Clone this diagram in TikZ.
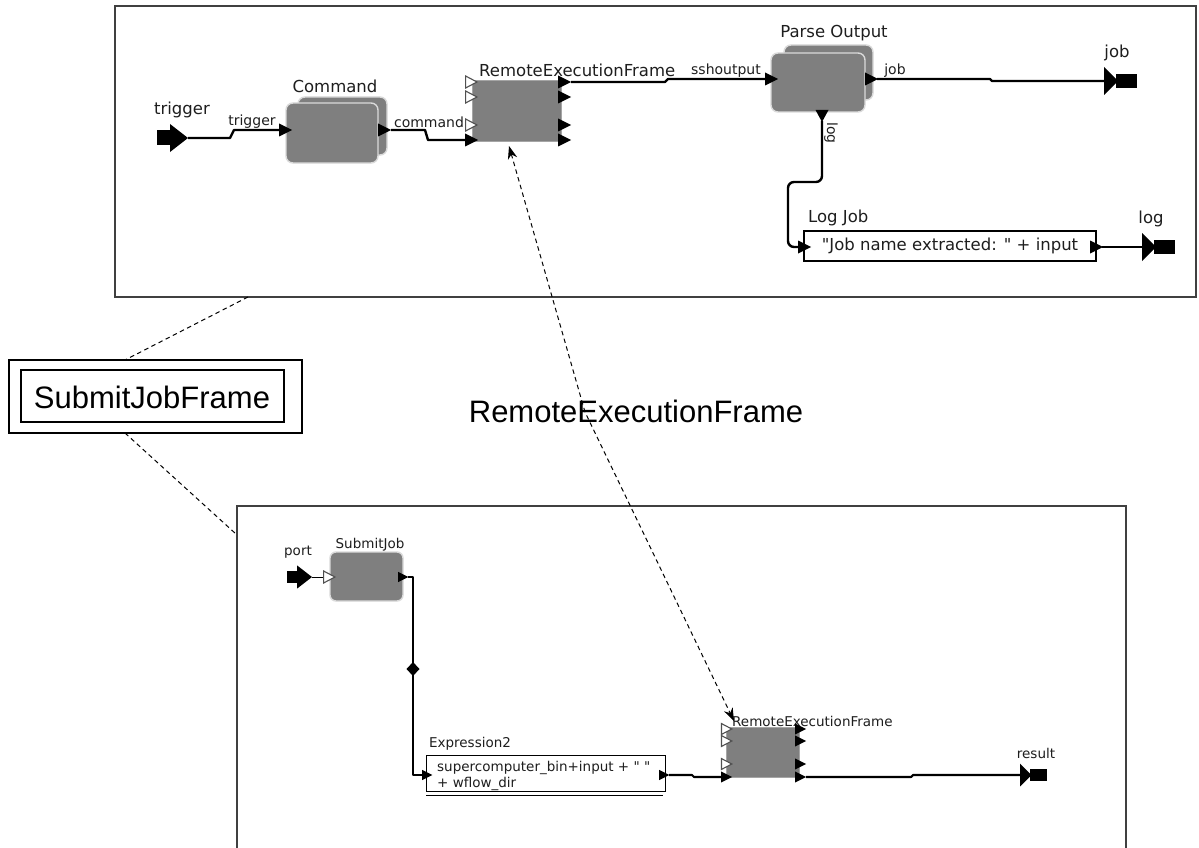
\documentclass[tikz,border=0pt]{standalone}
\usepackage{fontspec}
\setmainfont{Liberation Sans}
\newfontfamily\uifont{DejaVu Sans}
\usetikzlibrary{arrows.meta}
\definecolor{boxgray}{RGB}{127,127,127}
\definecolor{boxrim}{RGB}{218,218,218}
\definecolor{framegray}{RGB}{64,64,64}
\definecolor{opengray}{RGB}{80,80,80}
\definecolor{ink}{RGB}{30,30,30}
\begin{document}
\begin{tikzpicture}[x=1pt,y=-1pt,
  frame/.style={draw=framegray,line width=1.4pt},
  wire/.style={line width=2.4pt,line join=round},
  wireb/.style={line width=2.1pt,line join=round},
  dashlink/.style={line width=1pt,dash pattern=on 4.5pt off 3.5pt},
  gbox/.style={rectangle,rounded corners=7pt,fill=boxgray,draw=boxrim,line width=1.4pt,inner sep=0pt,outer sep=0pt},
  sbox/.style={rectangle,fill=boxgray,draw=boxgray!70,line width=0.8pt,inner sep=0pt,outer sep=0pt},
  ebox/.style={rectangle,draw=black,line width=1.3pt,fill=white,inner sep=0pt,outer sep=0pt},
  lbl/.style={font=\uifont\fontsize{16.5}{19}\selectfont,text=ink,inner sep=0pt},
  clbl/.style={font=\uifont\fontsize{14}{16}\selectfont,text=ink,inner sep=0pt},
  slbl/.style={font=\uifont\fontsize{13.5}{16}\selectfont,text=ink,inner sep=0pt},
  bigtxt/.style={font=\fontsize{31}{36}\selectfont,text=black,inner sep=0pt},
  linktip/.tip={Stealth[length=13pt,width=9.5pt]},
  pin/.pic={\fill (0,-6.5) -- (13,0) -- (0,6.5) -- cycle;},
  popen/.pic={\filldraw[fill=white,draw=opengray,line width=1.1pt] (0.6,-6) -- (12,0) -- (0.6,6) -- cycle;},
  pdown/.pic={\fill (-6.5,0) -- (0,12) -- (6.5,0) -- cycle;},
  inport/.pic={\fill (-31,-7.5) rectangle (-17,7.5); \fill (-18,-14) -- (0,0) -- (-18,14) -- cycle;},
  outport/.pic={\fill (0,-14) -- (14,0) -- (0,14) -- cycle; \fill (12,-7) rectangle (33,7);},
  joint/.pic={\fill (0,-7) -- (6.5,0) -- (0,7) -- (-6.5,0) -- cycle;}
]
\useasboundingbox (0,0) rectangle (1199,848);
\fill[white] (0,0) rectangle (1199,848);

% ---------- upper workflow frame ----------
\draw[frame] (115,6) rectangle (1196,297);

% boxes
\node[gbox,minimum width=89pt,minimum height=58pt] (cmdback) at (342.5,126) {};
\node[gbox,minimum width=92pt,minimum height=60pt] (cmd) at (332,133) {};
\node[sbox,minimum width=89pt,minimum height=61pt] (ref) at (516.5,110.5) {};
\node[gbox,minimum width=89pt,minimum height=55pt] (parseback) at (828.5,72.5) {};
\node[gbox,minimum width=94pt,minimum height=59pt] (parse) at (818,82.5) {};
\node[ebox,minimum width=292pt,minimum height=30pt,lbl] (logjob) at (950,246) {"Job name extracted: " + input};

% titles
\node[lbl,anchor=base] (cmdtitle) at (335,93) {Command};
\node[lbl,anchor=base west] (reftitle) at (479,77) {RemoteExecutionFrame};
\node[lbl,anchor=base] (parsetitle) at (834,38) {Parse Output};
\node[lbl,anchor=base west] (logjobtitle) at (808,222) {Log Job};
\node[lbl,anchor=base] (trigtitle) at (182,115) {trigger};
\node[lbl,anchor=base] (jobtitle) at (1117,58) {job};
\node[lbl,anchor=base] (logtitle) at (1151,223) {log};

% port ends
\coordinate (trigTip) at (188,138);
\coordinate (cmdIn) at (279,130);
\coordinate (cmdOut) at (378,130);
\coordinate (cmdOutTip) at (391,130);
\coordinate (refIn) at (465,140);
\coordinate (refOut) at (571,82);
\coordinate (parseIn) at (765,79);
\coordinate (parseJob) at (865,79);
\coordinate (parseJobTip) at (877,79);
\coordinate (parseLog) at (822,110);
\coordinate (parseLogTip) at (822,121);
\coordinate (jobPort) at (1104,81);
\coordinate (logjobIn) at (798,247);
\coordinate (logjobOut) at (1090,247);
\coordinate (logjobOutTip) at (1102,247);
\coordinate (logPort) at (1142,247);

% connectors
\draw[wire] (trigTip) -- ++(42,0) -- ++(4,-8) -- (cmdIn);
\draw[wire] (cmdOutTip) -- ++(34,0) -- ++(3,10) -- (refIn);
\draw[wire] (refOut) -- ++(94,0) -- ++(3,-3) -- (parseIn);
\draw[wire] (parseJobTip) -- ++(113,0) -- ++(2,2) -- (jobPort);
\draw[wire,rounded corners=6pt] (parseLogTip) -- (822,182) -- (788,182) -- (788,247) -- (logjobIn);
\draw[wire] (logjobOutTip) -- (logPort);

% connector labels
\node[clbl,anchor=base] (lbltrig) at (252,125) {trigger};
\node[clbl,anchor=base] (lblcmd) at (429,128) {command};
\node[clbl,anchor=base] (lblssh) at (726,75) {sshoutput};
\node[clbl,anchor=base] (lbljob) at (895,75) {job};
\node[clbl,rotate=-90] (lbllog) at (831,133) {log};

% port markers
\pic at (trigTip) {inport};
\pic at (cmdIn) {pin};
\pic at (cmdOut) {pin};
\pic at (465,82) {popen};
\pic at (465,97) {popen};
\pic at (465,125) {popen};
\pic at (refIn) {pin};
\pic at (558,82) {pin};
\pic at (558,97) {pin};
\pic at (558,125) {pin};
\pic at (558,140) {pin};
\pic at (parseIn) {pin};
\pic at (parseJob) {pin};
\pic at (parseLog) {pdown};
\pic at (jobPort) {outport};
\pic at (logjobIn) {pin};
\pic at (logjobOut) {pin};
\pic at (logPort) {outport};

% ---------- frame name ----------
\node[draw,line width=1.1pt,minimum width=293pt,minimum height=73pt,inner sep=0pt] (sjfouter) at (155.5,396.5) {};
\node[draw,line width=1.1pt,minimum width=263pt,minimum height=52pt,inner sep=0pt] (sjfinner) at (152.5,396) {};
\node[bigtxt,anchor=base] (sjftext) at (152,408) {SubmitJobFrame};
\node[bigtxt,anchor=base] (reftext) at (636,422) {RemoteExecutionFrame};

\coordinate (tfA) at (248,297);
\coordinate (sjfA) at (125,360);
\coordinate (sjfB) at (125,433);
\coordinate (bfA) at (236,534);
\draw[dashlink] (tfA) -- (sjfA);
\draw[dashlink] (sjfB) -- (bfA);

% ---------- lower workflow frame ----------
\draw[frame] (237,848) -- (237,506) -- (1126,506) -- (1126,848);

\node[gbox,rounded corners=6pt,minimum width=73pt,minimum height=49pt] (submit) at (366.5,576.5) {};
\node[ebox,line width=1pt,minimum width=239pt,minimum height=36pt] (expr) at (545.5,773) {};
\draw[line width=0.9pt] (426,795) -- (663,795);
\node[slbl,anchor=north west,align=left] (exprtext) at (437,761) {supercomputer\_bin+input + " "\\+ wflow\_dir};
\node[sbox,minimum width=73pt,minimum height=50pt] (ref2) at (762.5,752) {};

\node[slbl,anchor=base] (porttitle) at (298,555) {port};
\node[slbl,anchor=base] (submittitle) at (370,548) {SubmitJob};
\node[slbl,anchor=base] (exprtitle) at (470,747) {Expression2};
\node[slbl,anchor=base west] (ref2title) at (732,726) {RemoteExecutionFrame};
\node[slbl,anchor=base] (restitle) at (1036,758) {result};

\coordinate (portTip) at (312,577);
\coordinate (submitIn) at (323,577);
\coordinate (submitOut) at (398,577);
\coordinate (submitOutTip) at (408,577);
\coordinate (split) at (413,669);
\coordinate (exprIn) at (422,775);
\coordinate (exprOut) at (659,775);
\coordinate (exprOutTip) at (669,775);
\coordinate (ref2In) at (721,777);
\coordinate (ref2Out) at (795,777);
\coordinate (ref2OutTip) at (806,777);
\coordinate (resPort) at (1020,775);

\draw[line width=1pt] (portTip) -- (submitIn);
\draw[wireb] (submitOutTip) -- (413,577) -- (split) -- (413,775) -- (exprIn);
\draw[wireb] (exprOutTip) -- ++(23,0) -- ++(2,2) -- (ref2In);
\draw[wireb] (ref2OutTip) -- ++(105,0) -- ++(2,-2) -- (resPort);

\pic[scale=0.82] at (portTip) {inport};
\pic at (submitIn) {popen};
\pic[scale=0.8] at (submitOut) {pin};
\pic at (split) {joint};
\pic[scale=0.8] at (exprIn) {pin};
\pic[scale=0.8] at (exprOut) {pin};
\pic[scale=0.9] at (721,729) {popen};
\pic[scale=0.9] at (721,741) {popen};
\pic[scale=0.9] at (721,764) {popen};
\pic[scale=0.85] at (ref2In) {pin};
\pic[scale=0.85] at (795,729) {pin};
\pic[scale=0.85] at (795,741) {pin};
\pic[scale=0.85] at (795,764) {pin};
\pic[scale=0.85] at (ref2Out) {pin};
\pic[scale=0.82] at (resPort) {outport};

% ---------- link between the frame and its uses ----------
\coordinate (refBottom) at (509,146);
\coordinate (bend) at (585,412);
\coordinate (ref2Top) at (734,721);
\draw[dashlink,linktip-linktip] (refBottom) -- (bend) -- (ref2Top);
\end{tikzpicture}
\end{document}
